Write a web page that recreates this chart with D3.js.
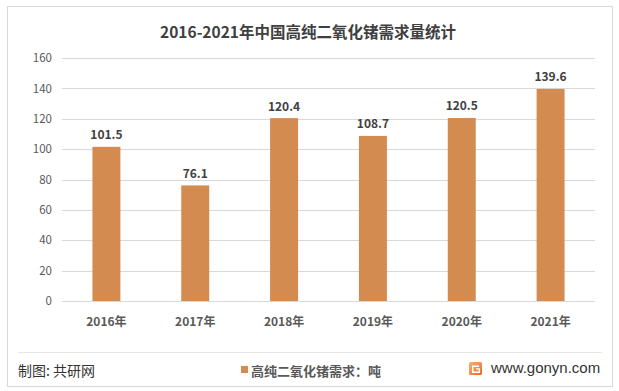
<!DOCTYPE html>
<html><head><meta charset="utf-8">
<script src="https://cdn.jsdelivr.net/npm/d3@7"></script>
<style>
html,body{margin:0;padding:0;background:#fff;}
svg{display:block;font-family:"Noto Sans CJK SC","Noto Sans",sans-serif;}
</style></head>
<body>
<svg id="c" width="619" height="391"></svg>
<script>
const title = "2016-2021年中国高纯二氧化锗需求量统计";
const categories = ["2016年","2017年","2018年","2019年","2020年","2021年"];
const values = [101.5, 76.1, 120.4, 108.7, 120.5, 139.6];
const yTicks = [0,20,40,60,80,100,120,140,160];
const seriesName = "高纯二氧化锗需求：吨";
const source = "制图: 共研网";
const site = "www.gonyn.com";

const svg = d3.select("#c");
const barColor = "#D48B4F";

// outer border
svg.append("rect").attr("x",7.5).attr("y",6.5).attr("width",605).attr("height",380)
  .attr("fill","#fff").attr("stroke","#d9d9d9");

// title
svg.append("text").attr("x",308).attr("y",31).attr("text-anchor","middle")
  .attr("dominant-baseline","central").attr("font-size",15.5).attr("font-weight","bold")
  .attr("fill","#404040").text(title);

const x = d3.scaleBand().domain(categories).range([62,595]).paddingInner(0.685).paddingOuter(0.3425);
const y = d3.scaleLinear().domain([0,160]).range([301,58]);

// gridlines
svg.append("g").selectAll("line").data(yTicks).join("line")
  .attr("x1",62).attr("x2",595).attr("y1",d=>Math.round(y(d))+0.5).attr("y2",d=>Math.round(y(d))+0.5)
  .attr("stroke","#d9d9d9").attr("stroke-width",1);

// y axis labels
const yAxis = d3.axisLeft(y).tickValues(yTicks).tickSize(0).tickPadding(0);
const gy = svg.append("g").attr("transform","translate(52,0)").call(yAxis);
gy.select(".domain").remove();
gy.selectAll("text").attr("font-size",11.5).attr("fill","#595959")
  .attr("font-family","'Noto Sans CJK SC',sans-serif");

// bars
svg.append("g").selectAll("rect").data(values).join("rect")
  .attr("x",(d,i)=>x(categories[i])).attr("width",x.bandwidth())
  .attr("y",d=>y(d)).attr("height",d=>y(0)-y(d)).attr("fill",barColor);

// value labels
svg.append("g").selectAll("text").data(values).join("text")
  .attr("x",(d,i)=>x(categories[i])+x.bandwidth()/2).attr("y",d=>y(d)-13)
  .attr("text-anchor","middle").attr("dominant-baseline","central")
  .attr("font-size",12).attr("font-weight","bold").attr("fill","#404040")
  .text(d=>d.toFixed(1));

// x axis
const xAxis = d3.axisBottom(x).tickSize(0).tickPadding(0);
const gx = svg.append("g").attr("transform","translate(0,"+(Math.round(y(0))+0.5)+")").call(xAxis);
gx.select(".domain").attr("stroke","#d9d9d9").attr("d","M62,0H595");
gx.selectAll("text").attr("y",19).attr("dy",null).attr("dominant-baseline","central")
  .attr("font-size",12).attr("font-weight","bold").attr("fill","#595959")
  .attr("font-family","'Noto Sans CJK SC',sans-serif");

// footer separator
svg.append("line").attr("x1",18).attr("x2",602).attr("y1",352.5).attr("y2",352.5)
  .attr("stroke","#e6e6e6");

svg.append("text").attr("x",18).attr("y",370).attr("dominant-baseline","central")
  .attr("font-size",14).attr("fill","#333").text(source);

// legend
svg.append("rect").attr("x",241).attr("y",366).attr("width",7).attr("height",7).attr("fill",barColor);
svg.append("text").attr("x",251).attr("y",370).attr("dominant-baseline","central")
  .attr("font-size",13).attr("font-weight","bold").attr("fill","#595959").text(seriesName);

// logo
const defs = svg.append("defs");
const lg = defs.append("linearGradient").attr("id","lg").attr("x1",0).attr("y1",0).attr("x2",1).attr("y2",1);
lg.append("stop").attr("offset","0%").attr("stop-color","#F6B26B");
lg.append("stop").attr("offset","100%").attr("stop-color","#EE6A2C");
svg.append("rect").attr("x",469).attr("y",362).attr("width",13).attr("height",13).attr("rx",1.5).attr("fill","url(#lg)");
svg.append("path").attr("d","M472,365.5H479V367H473.5V371.5H478.5V369.5H476V368.3H480V373H472Z").attr("fill","#fff");
svg.append("text").attr("x",491).attr("y",367).attr("dominant-baseline","central")
  .attr("font-size",15).attr("fill","#333").attr("font-family","'Liberation Sans','Noto Sans',sans-serif").text(site);
</script>
</body></html>
